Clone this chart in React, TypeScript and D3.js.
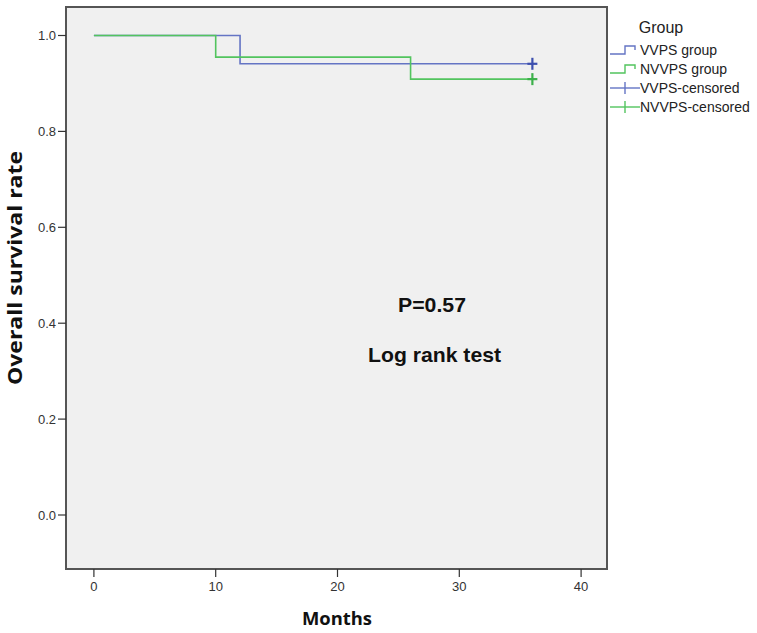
import React, { useEffect } from 'react';
import * as d3 from 'd3';

// Kaplan-Meier steps
const vvpsTimes = [0, 12, 36];
const vvpsSurv = [1.0, 0.941, 0.941];
const nvvpsTimes = [0, 10, 26, 36];
const nvvpsSurv = [1.0, 0.955, 0.909, 0.909];
const censorTime = 36;

const xTicks = [0, 10, 20, 30, 40];
const yTicks = [0, 0.2, 0.4, 0.6, 0.8, 1.0];

const legendItems = ['VVPS group', 'NVVPS group', 'VVPS-censored', 'NVVPS-censored'];

const BLUE = '#6474c4';
const BLUE_DARK = '#3c4fae';
const GREEN = '#52c45e';
const GREEN_DARK = '#3cb04a';

const FONT = '"Liberation Sans", Arial, sans-serif';
const TITLE_FONT = '"Open Sans", "DejaVu Sans", sans-serif';

const App: React.FC = () => {
    useEffect(() => {
        document.body.style.margin = '0';
    }, []);

    const width = 757;
    const height = 633;
    const frame = { left: 66, right: 607, top: 7, bottom: 569 };

    const x = d3.scaleLinear().domain([0, 40]).range([93.9, 581.1]);
    const y = d3.scaleLinear().domain([0, 1]).range([515, 35.5]);

    const line = d3.line<[number, number]>()
        .x(d => x(d[0]))
        .y(d => y(d[1]))
        .curve(d3.curveStepAfter);

    const vvps = vvpsTimes.map((t, i) => [t, vvpsSurv[i]] as [number, number]);
    const nvvps = nvvpsTimes.map((t, i) => [t, nvvpsSurv[i]] as [number, number]);

    const censors = [
        { v: vvpsSurv[vvpsSurv.length - 1], color: BLUE_DARK },
        { v: nvvpsSurv[nvvpsSurv.length - 1], color: GREEN_DARK },
    ];

    const legendY = [50, 69, 88, 107];

    return (
        <svg width={width} height={height} style={{ display: 'block', background: '#fff', fontFamily: FONT }}>
            {/* plot area */}
            <rect x={frame.left} y={frame.top} width={frame.right - frame.left} height={frame.bottom - frame.top}
                fill="#f0f0f0" stroke="#555" strokeWidth={2} />

            {/* y axis */}
            {yTicks.map(t => (
                <g key={'y' + t}>
                    <line x1={frame.left - 8} x2={frame.left} y1={y(t)} y2={y(t)} stroke="#333" strokeWidth={1.2} />
                    <text x={frame.left - 10} y={y(t)} dy="0.35em" textAnchor="end" fontSize={13} fill="#333">
                        {t.toFixed(1)}
                    </text>
                </g>
            ))}

            {/* x axis */}
            {xTicks.map(t => (
                <g key={'x' + t}>
                    <line x1={x(t)} x2={x(t)} y1={frame.bottom} y2={frame.bottom + 8} stroke="#333" strokeWidth={1.2} />
                    <text x={x(t)} y={frame.bottom + 22} textAnchor="middle" fontSize={13} fill="#333">
                        {t}
                    </text>
                </g>
            ))}

            <text x={337} y={625} textAnchor="middle" fontSize={18} fontWeight="bold" fill="#111"
                fontFamily={TITLE_FONT} textLength={70} lengthAdjust="spacingAndGlyphs">
                Months
            </text>
            <text transform="translate(22,268) rotate(-90)" textAnchor="middle"
                fontSize={19} fontWeight="bold" fill="#111" fontFamily={TITLE_FONT}
                textLength={234} lengthAdjust="spacingAndGlyphs">
                Overall survival rate
            </text>

            {/* curves */}
            <path d={line(vvps) || ''} fill="none" stroke={BLUE} strokeWidth={1.6} />
            <path d={line(nvvps) || ''} fill="none" stroke={GREEN} strokeWidth={1.6} />

            {censors.map((c, i) => (
                <g key={'c' + i} stroke={c.color} strokeWidth={2.2}>
                    <line x1={x(censorTime) - 5} x2={x(censorTime) + 5} y1={y(c.v)} y2={y(c.v)} />
                    <line x1={x(censorTime)} x2={x(censorTime)} y1={y(c.v) - 6} y2={y(c.v) + 6} />
                </g>
            ))}

            {/* annotation */}
            <text x={398} y={312} fontSize={21} fontWeight="bold" fill="#111"
                textLength={68} lengthAdjust="spacingAndGlyphs">P=0.57</text>
            <text x={368} y={362} fontSize={21} fontWeight="bold" fill="#111"
                textLength={133} lengthAdjust="spacingAndGlyphs">Log rank test</text>

            {/* legend */}
            <text x={661} y={33} textAnchor="middle" fontSize={16} fill="#222">Group</text>
            {legendItems.map((label, i) => {
                const ly = legendY[i];
                const color = i % 2 === 0 ? BLUE : GREEN;
                return (
                    <g key={label}>
                        {i < 2 ? (
                            <path d={`M610,${ly + 4}H625V${ly - 4}H635V${ly}`} fill="none" stroke={color} strokeWidth={1.4} />
                        ) : (
                            <g stroke={color} strokeWidth={1.4}>
                                <line x1={610} x2={640} y1={ly} y2={ly} />
                                <line x1={625} x2={625} y1={ly - 6} y2={ly + 6} />
                            </g>
                        )}
                        <text x={640} y={ly} dy="0.35em" fontSize={14} fill="#222">{label}</text>
                    </g>
                );
            })}
        </svg>
    );
};

export default App;
